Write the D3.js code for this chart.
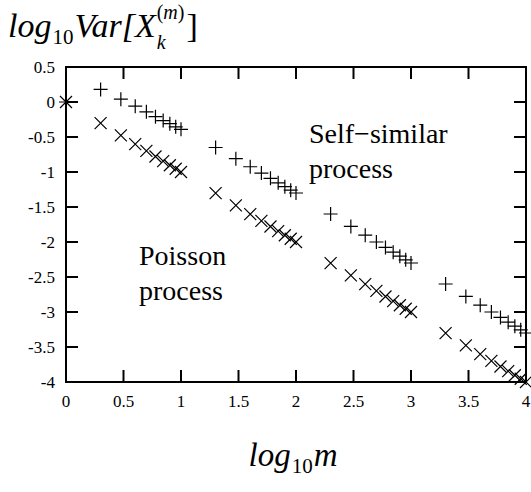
<!DOCTYPE html>
<html><head><meta charset="utf-8">
<script src="https://cdn.jsdelivr.net/npm/d3@7/dist/d3.min.js"></script>
</head><body style="margin:0">
<svg id="c" width="531" height="492"></svg>
<script>
// log10 m values for m = 1..10, 20..100, 200..1000, 2000..10000
const logM = [0, 0.301, 0.477, 0.602, 0.699, 0.778, 0.845, 0.903, 0.954, 1,
  1.301, 1.477, 1.602, 1.699, 1.778, 1.845, 1.903, 1.954, 2,
  2.301, 2.477, 2.602, 2.699, 2.778, 2.845, 2.903, 2.954, 3,
  3.301, 3.477, 3.602, 3.699, 3.778, 3.845, 3.903, 3.954, 4];
// Poisson process (x marks)
const poissonVar = [0, -0.301, -0.477, -0.602, -0.699, -0.778, -0.845, -0.903, -0.954, -1,
  -1.301, -1.477, -1.602, -1.699, -1.778, -1.845, -1.903, -1.954, -2,
  -2.301, -2.477, -2.602, -2.699, -2.778, -2.845, -2.903, -2.954, -3,
  -3.301, -3.477, -3.602, -3.699, -3.778, -3.845, -3.903, -3.954, -4];
// Self-similar process (+ marks)
const selfSimVar = [0, 0.18, 0.04, -0.06, -0.14, -0.21, -0.265, -0.31, -0.355, -0.39,
  -0.65, -0.81, -0.925, -1.015, -1.09, -1.155, -1.21, -1.26, -1.30,
  -1.60, -1.777, -1.902, -2.0, -2.078, -2.145, -2.203, -2.254, -2.30,
  -2.60, -2.777, -2.902, -3.0, -3.078, -3.145, -3.203, -3.254, -3.30];
const xTicks = [0, 0.5, 1, 1.5, 2, 2.5, 3, 3.5, 4];
const xTickLabels = ["0", "0.5", "1", "1.5", "2", "2.5", "3", "3.5", "4"];
const yTicks = [0.5, 0, -0.5, -1, -1.5, -2, -2.5, -3, -3.5, -4];
const yTickLabels = ["0.5", "0", "-0.5", "-1", "-1.5", "-2", "-2.5", "-3", "-3.5", "-4"];

const svg = d3.select("#c");
const L = 66, R = 526, T = 67, B = 382;
const x = d3.scaleLinear().domain([0, 4]).range([L, R]);
const y = d3.scaleLinear().domain([-4, 0.5]).range([B, T]);
const TL = 12;

function txt(parent, px, py, size, s, italic) {
  const e = parent.append("text").attr("x", px).attr("y", py)
    .style("font-family", '"Liberation Serif", serif').style("font-size", size + "px");
  if (italic) e.style("font-style", "italic");
  if (s != null) e.text(s);
  return e;
}
const w = e => e.node().getComputedTextLength();

// ticks
const g = svg.append("g").attr("stroke", "#000").attr("stroke-width", 2);
xTicks.forEach(v => {
  g.append("line").attr("x1", x(v)).attr("x2", x(v)).attr("y1", B).attr("y2", B - TL);
  g.append("line").attr("x1", x(v)).attr("x2", x(v)).attr("y1", T).attr("y2", T + TL);
});
yTicks.forEach(v => {
  g.append("line").attr("x1", L).attr("x2", L + TL).attr("y1", y(v)).attr("y2", y(v));
  g.append("line").attr("x1", R).attr("x2", R - TL).attr("y1", y(v)).attr("y2", y(v));
});
svg.append("rect").attr("x", L).attr("y", T).attr("width", R - L).attr("height", B - T)
  .attr("fill", "none").attr("stroke", "#000").attr("stroke-width", 2);

// tick labels
xTicks.forEach((v, i) => txt(svg, x(v), 407, 17, xTickLabels[i]).attr("text-anchor", "middle"));
yTicks.forEach((v, i) => txt(svg, 55, y(v) + 6, 17, yTickLabels[i]).attr("text-anchor", "end"));

// markers
const plus = 7, cross = 6;
const mk = svg.append("g").attr("stroke", "#000").attr("stroke-width", 1.2).attr("fill", "none");
mk.selectAll("path.p").data(logM).join("path").attr("class", "p")
  .attr("d", (d, i) => {
    const cx = x(d), cy = y(selfSimVar[i]);
    return `M${cx - plus},${cy}H${cx + plus}M${cx},${cy - plus}V${cy + plus}`;
  });
mk.selectAll("path.x").data(logM).join("path").attr("class", "x")
  .attr("d", (d, i) => {
    const cx = x(d), cy = y(poissonVar[i]);
    return `M${cx - cross},${cy - cross}L${cx + cross},${cy + cross}M${cx - cross},${cy + cross}L${cx + cross},${cy - cross}`;
  });

// annotations
txt(svg, 309, 143, 28, "Self\u2212similar");
txt(svg, 309, 178, 28, "process");
txt(svg, 139, 265, 28, "Poisson");
txt(svg, 139, 300, 28, "process");

// title: log10 Var[X_k^(m)], pieces placed by measured widths
let px = 8;
const t1 = txt(svg, px, 37, 34, "log", true); px += w(t1) + 1;
const t2 = txt(svg, px, 44, 21, "10", false); px += w(t2) + 1;
const t3 = txt(svg, px, 37, 34, "Var[X", true); px += w(t3) + 1;
const tk = txt(svg, px, 49, 20, "k", true);
const tm = txt(svg, px, 19, 20, null, false);
tm.append("tspan").text("(");
tm.append("tspan").style("font-style", "italic").text("m");
tm.append("tspan").text(")");
px += Math.max(w(tk), w(tm)) + 2;
txt(svg, px, 37, 34, "]", false);

// x label: log10 m, centred near x = 293
const xg = svg.append("g");
let qx = 0;
const a1 = txt(xg, qx, 466, 33, "log", true); qx += w(a1) + 1;
const a2 = txt(xg, qx, 473, 21, "10", false); qx += w(a2) + 1;
const a3 = txt(xg, qx, 466, 33, "m", true); qx += w(a3);
xg.attr("transform", `translate(${293 - qx / 2},0)`);
</script>
</body></html>
